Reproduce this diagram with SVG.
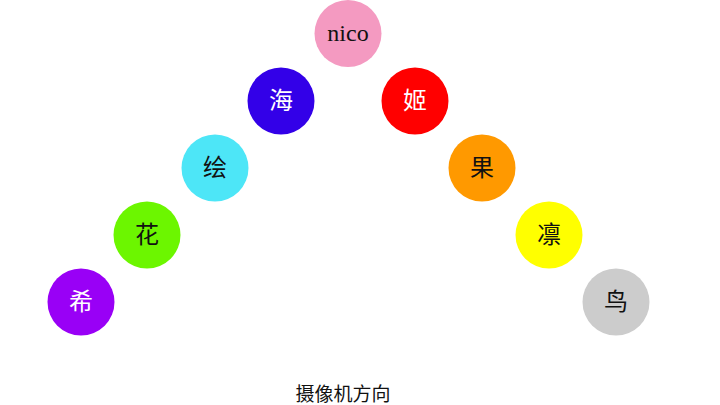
<svg xmlns="http://www.w3.org/2000/svg" width="720" height="405" viewBox="0 0 720 405">
<style>
.c{stroke:none}
.t{font-family:"Noto Sans CJK SC","Noto Sans",sans-serif;font-size:24px;text-anchor:middle}
.n{font-family:"Liberation Serif",serif;font-size:24px;text-anchor:middle}
.w{fill:#ffffff}
.b{fill:#111111}
</style>
<rect width="720" height="405" fill="#ffffff"/>
<g id="connectors"></g>
<g id="node-xi"><circle class="c" cx="81" cy="302" r="33.5" fill="#9900f6"/><text class="t w" x="81" y="310">希</text></g>
<g id="node-hua"><circle class="c" cx="147" cy="235" r="33.5" fill="#6cf600"/><text class="t b" x="147" y="243">花</text></g>
<g id="node-hui"><circle class="c" cx="215" cy="168" r="33.5" fill="#4de6f7"/><text class="t b" x="215" y="176">绘</text></g>
<g id="node-hai"><circle class="c" cx="281" cy="101" r="33.5" fill="#3300e8"/><text class="t w" x="281" y="109">海</text></g>
<g id="node-nico"><circle class="c" cx="348" cy="33.5" r="33.5" fill="#f49ac1"/><text class="n b" x="348" y="41">nico</text></g>
<g id="node-ji"><circle class="c" cx="415" cy="101" r="33.5" fill="#ff0000"/><text class="t w" x="415" y="109">姬</text></g>
<g id="node-guo"><circle class="c" cx="482" cy="168" r="33.5" fill="#ff9900"/><text class="t b" x="482" y="176">果</text></g>
<g id="node-lin"><circle class="c" cx="549" cy="235" r="33.5" fill="#ffff00"/><text class="t b" x="549" y="243">凛</text></g>
<g id="node-niao"><circle class="c" cx="616" cy="302" r="33.5" fill="#cccccc"/><text class="t b" x="616" y="310">鸟</text></g>
<text x="343" y="401" style="font-family:'Noto Sans CJK SC',sans-serif;font-size:19px;text-anchor:middle" fill="#111111">摄像机方向</text>
</svg>
